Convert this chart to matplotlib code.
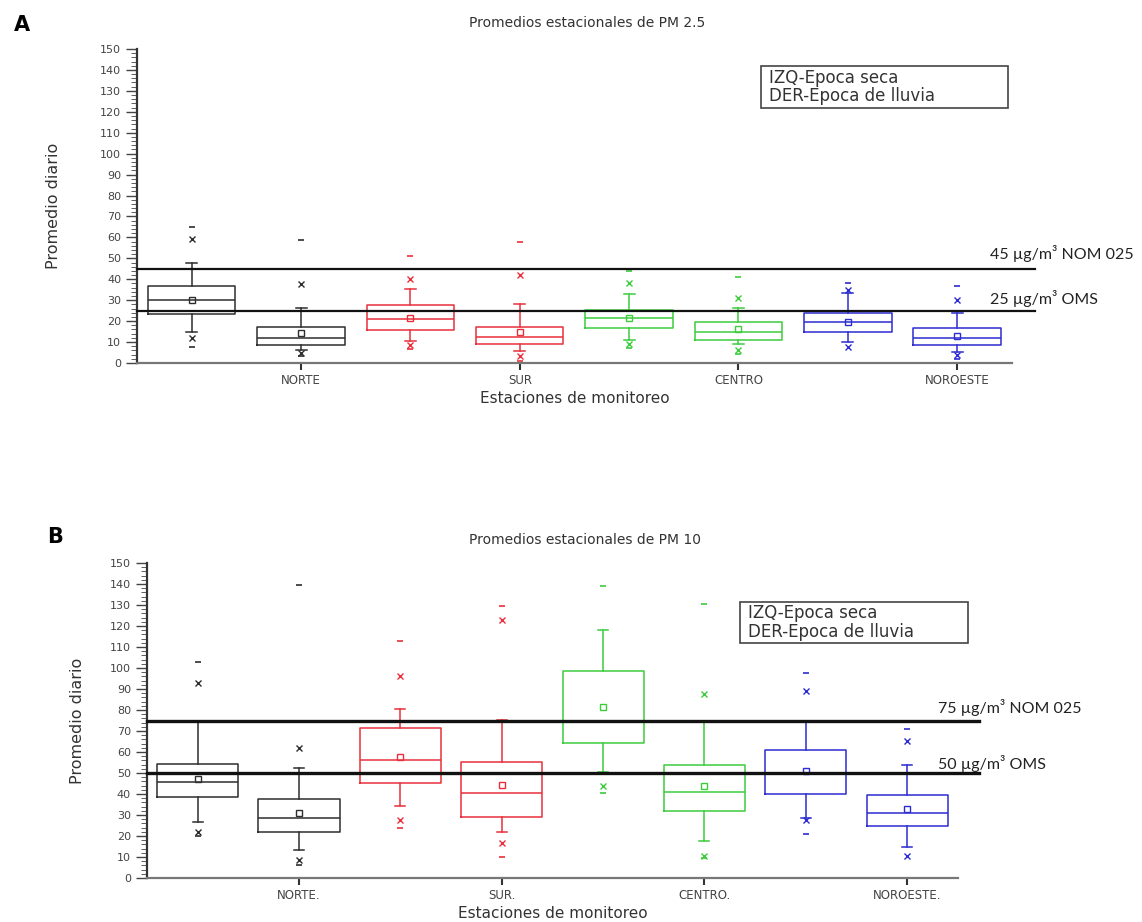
import numpy as np
import matplotlib.pyplot as plt
from matplotlib.patches import Rectangle
from matplotlib.ticker import MultipleLocator

# estaciones (cada una con época seca a la izq. y época de lluvia a la der.)
estaciones_a = ['NORTE', 'SUR', 'CENTRO', 'NOROESTE']
estaciones_b = ['NORTE.', 'SUR.', 'CENTRO.', 'NOROESTE.']
colores = ['#2e2e2e', '#2e2e2e', '#e8303c', '#e8303c',
           '#3ccc3c', '#3ccc3c', '#2c2cd2', '#2c2cd2']

# PM 2.5
pm25_q1 = [23.2, 8.8, 15.7, 9.3, 16.5, 11.2, 14.7, 8.8]
pm25_med = [29.9, 11.7, 20.8, 12.2, 21.3, 14.7, 19.7, 11.7]
pm25_q3 = [36.8, 17.3, 27.5, 17.3, 25.3, 19.7, 24.1, 16.5]
pm25_mean = [30.0, 14.1, 21.6, 14.7, 21.3, 16.0, 19.7, 12.8]
pm25_wlo = [14.7, 6.4, 10.6, 5.6, 11.2, 9.0, 9.8, 5.3]
pm25_whi = [47.7, 26.1, 35.2, 28.3, 32.8, 26.1, 33.3, 24.0]
pm25_p1 = [12.0, 4.8, 8.5, 3.5, 9.3, 6.1, 7.7, 3.7]
pm25_p99 = [59.2, 37.7, 40.0, 41.9, 38.0, 31.2, 34.9, 30.0]
pm25_min = [7.7, 3.2, 6.9, 1.0, 7.2, 4.5, np.nan, 2.0]
pm25_max = [64.8, 58.9, 51.3, 57.7, 44.1, 40.9, 38.4, 36.9]
pm25_limites = [45, 25]
pm25_etiquetas = ['45 µg/m³ NOM 025', '25 µg/m³ OMS']

# PM 10
pm10_q1 = [38.7, 22.1, 45.1, 29.1, 64.3, 32.0, 40.0, 24.8]
pm10_med = [45.9, 28.8, 56.3, 40.5, 75.0, 41.1, 50.0, 30.9]
pm10_q3 = [54.4, 37.6, 71.5, 55.2, 98.8, 53.6, 61.1, 39.5]
pm10_mean = [47.2, 30.9, 57.6, 44.3, 81.6, 43.7, 51.2, 32.8]
pm10_wlo = [26.7, 13.3, 34.4, 22.1, 50.4, 17.6, 28.8, 14.9]
pm10_whi = [74.4, 52.5, 80.4, 75.2, 118.3, 74.4, 74.4, 53.6]
pm10_p1 = [21.9, 8.8, 27.7, 16.5, 44.0, 10.7, 27.5, 10.4]
pm10_p99 = [92.8, 62.0, 96.3, 122.7, np.nan, 87.6, 89.1, 65.1]
pm10_min = [20.0, 6.4, 24.0, 9.9, 40.3, 9.6, 20.8, np.nan]
pm10_max = [102.8, 139.6, 112.7, 129.5, 139.1, 130.3, 97.6, 71.2]
pm10_limites = [75, 50]
pm10_etiquetas = ['75 µg/m³ NOM 025', '50 µg/m³ OMS']

plt.rcParams['font.family'] = 'DejaVu Sans'

fig = plt.figure(figsize=(11.42, 9.22), dpi=100)
ax_a = fig.add_axes([0.120, 0.6063, 0.766, 0.3406])
ax_b = fig.add_axes([0.1287, 0.0477, 0.710, 0.3416])


def panel(ax, q1, med, q3, mean, wlo, whi, p1, p99, vmin, vmax,
          nombres, limites, etiquetas, lw_lim, dy_lab):
    pos = np.arange(1, len(q1) + 1)
    stats = []
    for i in range(len(q1)):
        stats.append(dict(q1=q1[i], med=med[i], q3=q3[i], mean=mean[i],
                          whislo=wlo[i], whishi=whi[i], fliers=[]))
    art = ax.bxp(stats, positions=pos, widths=0.8, capwidths=0.1,
                 showmeans=True, patch_artist=False)
    for i, c in enumerate(colores):
        art['boxes'][i].set(color=c, linewidth=1.1)
        art['medians'][i].set(color=c, linewidth=1.1)
        for k in (2 * i, 2 * i + 1):
            art['whiskers'][k].set(color=c, linewidth=1.1)
            art['caps'][k].set(color=c, linewidth=1.1)
        art['means'][i].set(marker='s', markersize=4, markerfacecolor='none',
                            markeredgecolor=c, markeredgewidth=1.0)
        ax.plot(pos[i], p1[i], 'x', color=c, ms=4, mew=1.0)
        ax.plot(pos[i], p99[i], 'x', color=c, ms=4, mew=1.0)
        ax.plot(pos[i], vmin[i], '_', color=c, ms=5, mew=1.2)
        ax.plot(pos[i], vmax[i], '_', color=c, ms=5, mew=1.2)

    for lim, et, dy in zip(limites, etiquetas, dy_lab):
        ax.axhline(lim, xmin=0, xmax=1.026, color='#111111', lw=lw_lim,
                   clip_on=False, zorder=5)
        ax.text(8.3, lim + dy, et, fontsize=11.5, family='Lato',
                va='center', ha='left', color='#222222')

    ax.set_xlim(0.5, 8.5)
    ax.set_ylim(0, 150)
    ax.set_xticks(pos[1::2])
    ax.set_xticklabels(nombres, fontsize=8.5, color='#444444')
    ax.yaxis.set_major_locator(MultipleLocator(10))
    ax.yaxis.set_minor_locator(MultipleLocator(2))
    ax.tick_params(axis='y', labelsize=8, labelcolor='#444444', length=8,
                   color='#444444', width=1)
    ax.tick_params(axis='y', which='minor', length=4, color='#444444')
    ax.tick_params(axis='x', length=5, width=1.5, color='#333333', pad=3)
    for s in ('top', 'right'):
        ax.spines[s].set_visible(False)
    ax.spines['left'].set(color='#333333', linewidth=1.6)
    ax.spines['bottom'].set(color='#777777', linewidth=1.6)
    ax.set_ylabel('Promedio diario', fontsize=11.5, color='#333333')
    ax.set_xlabel('Estaciones de monitoreo', fontsize=11, color='#333333')


def leyenda(ax, x, y, w, h):
    ax.add_patch(Rectangle((x, y), w, h, transform=ax.transAxes, fill=False,
                           ec='#444444', lw=1.2, clip_on=False, zorder=6))
    ax.text(x + 0.035 * w, y + h / 2, 'IZQ-Epoca seca\nDER-Epoca de lluvia',
            transform=ax.transAxes, fontsize=12, color='#333333',
            va='center', ha='left', linespacing=1.05, zorder=7)


panel(ax_a, pm25_q1, pm25_med, pm25_q3, pm25_mean, pm25_wlo, pm25_whi,
      pm25_p1, pm25_p99, pm25_min, pm25_max, estaciones_a,
      pm25_limites, pm25_etiquetas, 1.6, [7.5, 6])
panel(ax_b, pm10_q1, pm10_med, pm10_q3, pm10_mean, pm10_wlo, pm10_whi,
      pm10_p1, pm10_p99, pm10_min, pm10_max, estaciones_b,
      pm10_limites, pm10_etiquetas, 2.4, [6, 4.5])

ax_a.set_title('Promedios estacionales de PM 2.5', fontsize=10,
               color='#333333', pad=16, x=0.515)
ax_b.set_title('Promedios estacionales de PM 10', fontsize=10,
               color='#333333', pad=14, x=0.54)
ax_a.xaxis.labelpad = 3
ax_b.xaxis.labelpad = 3
ax_a.yaxis.labelpad = 28
ax_b.yaxis.labelpad = 18

leyenda(ax_a, 0.713, 0.812, 0.283, 0.134)
leyenda(ax_b, 0.731, 0.746, 0.281, 0.130)

fig.text(0.019, 0.973, 'A', fontsize=15, fontweight='bold', va='center', ha='center')
fig.text(0.048, 0.418, 'B', fontsize=15, fontweight='bold', va='center', ha='center')

fig.savefig('out.png', dpi=100)
